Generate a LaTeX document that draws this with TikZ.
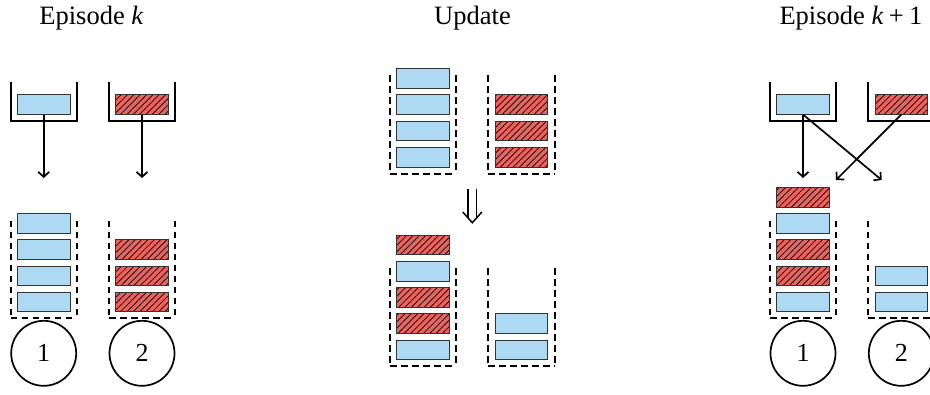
\documentclass[tikz,border=0pt]{standalone}
\usepackage{fontspec}
\setmainfont{Liberation Serif}
\usetikzlibrary{arrows.meta,patterns.meta}
\definecolor{memblue}{RGB}{174,217,242}
\definecolor{memred}{RGB}{234,99,94}
\begin{document}
\begin{tikzpicture}[x=1pt,y=-1pt,
  sample/.style={draw=black!80, line width=1pt, minimum width=52.6pt,
    minimum height=19.6pt, inner sep=0pt, outer sep=0pt},
  bluebox/.style={sample, fill=memblue},
  redbox/.style={sample, preaction={fill=memred},
    pattern={Lines[angle=45,distance=4.5pt,line width=0.7pt]}, pattern color=black},
  cup/.style={line width=1.9pt},
  buffer/.style={line width=1.9pt, dash pattern=on 6.5pt off 4.5pt},
  agent/.style={circle, draw, line width=1.7pt, minimum size=65pt, inner sep=0pt,
    font=\fontsize{26}{30}\selectfont},
  title/.style={anchor=base, font=\fontsize{26.5}{30}\selectfont},
  flow/.style={line width=1.7pt, -{Straight Barb[length=5pt,width=11pt]}}]
\useasboundingbox (0,0) rectangle (930,394);

% open dashed buffer: both walls start at the top, floor drawn separately
\newcommand{\bufferbox}[4]{%
  \draw[buffer] (#1,#3) -- (#1,#4);
  \draw[buffer] (#2,#3) -- (#2,#4);
  \draw[buffer] (#1,#4) -- (#2,#4);}

% ---------- titles ----------
\node[title] (t1) at (91.5,24) {Episode \textit{k}};
\node[title] (t2) at (472.5,24) {Update};
\node[title] (t3) at (851,24) {Episode \textit{k}\hspace{0.2em}+\hspace{0.2em}1};

% ---------- episode k ----------
\draw[cup] (10.7,82) -- (10.7,121) -- (76.7,121) -- (76.7,82);
\draw[cup] (109,82) -- (109,121) -- (175,121) -- (175,82);
\node[bluebox] (ka) at (43.7,104.7) {};
\node[redbox] (kb) at (142,104.7) {};
\coordinate (kaend) at (43.7,178);
\coordinate (kbend) at (142,178);
\draw[flow] (ka.south) -- (kaend);
\draw[flow] (kb.south) -- (kbend);

\bufferbox{10.7}{76.7}{220.7}{317.7}
\bufferbox{109}{175}{220.7}{317.7}
\node[bluebox] (k11) at (43.7,302) {};
\node[bluebox] (k12) at (43.7,275.8) {};
\node[bluebox] (k13) at (43.7,249.6) {};
\node[bluebox] (k14) at (43.7,223.4) {};
\node[redbox] (k21) at (142,302) {};
\node[redbox] (k22) at (142,275.8) {};
\node[redbox] (k23) at (142,249.6) {};
\node[agent] (ka1) at (43.7,353.3) {1};
\node[agent] (ka2) at (142,353.3) {2};

% ---------- update ----------
\bufferbox{390}{456}{75}{174}
\bufferbox{488.3}{555}{75}{174}
\node[bluebox] (u11) at (423,157.3) {};
\node[bluebox] (u12) at (423,131) {};
\node[bluebox] (u13) at (423,104.7) {};
\node[bluebox] (u14) at (423,78.4) {};
\node[redbox] (u21) at (521.6,157.3) {};
\node[redbox] (u22) at (521.6,131) {};
\node[redbox] (u23) at (521.6,104.7) {};

% double arrow between the two states
\draw[line width=1.5pt] (468,189) -- (468,217.6);
\draw[line width=1.5pt] (476.6,189) -- (476.6,217.6);
\draw[line width=1.5pt, line join=miter] (462.7,212) -- (472.3,222.7) -- (481.9,212);

\bufferbox{390}{456}{268.3}{366}
\bufferbox{488.3}{555}{268.3}{366}
\node[bluebox] (v11) at (423,350) {};
\node[redbox] (v12) at (423,323.75) {};
\node[redbox] (v13) at (423,297.5) {};
\node[bluebox] (v14) at (423,271.25) {};
\node[redbox] (v15) at (423,245) {};
\node[bluebox] (v21) at (521.6,350) {};
\node[bluebox] (v22) at (521.6,323.75) {};

% ---------- episode k+1 ----------
\draw[cup] (770,82) -- (770,121) -- (835.7,121) -- (835.7,82);
\draw[cup] (868.3,82) -- (868.3,121) -- (934.3,121) -- (934.3,82);
\node[bluebox] (na) at (803,104.7) {};
\node[redbox] (nb) at (901.3,104.7) {};
\coordinate (naend) at (803,178);
\coordinate (nxend) at (881.7,180);
\coordinate (nbend) at (836,180);
\draw[flow] (na.south) -- (naend);
\draw[flow] (na.south) -- (nxend);
\draw[flow] (nb.south) -- (nbend);

\bufferbox{770}{836}{220.7}{317.7}
\bufferbox{868.3}{934.3}{220.7}{317.7}
\node[bluebox] (n11) at (803,302) {};
\node[redbox] (n12) at (803,275.8) {};
\node[redbox] (n13) at (803,249.6) {};
\node[bluebox] (n14) at (803,223.4) {};
\node[redbox] (n15) at (803,197.2) {};
\node[bluebox] (n21) at (901.3,302) {};
\node[bluebox] (n22) at (901.3,275.8) {};
\node[agent] (na1) at (803,353.3) {1};
\node[agent] (na2) at (901.3,353.3) {2};
\end{tikzpicture}
\end{document}
